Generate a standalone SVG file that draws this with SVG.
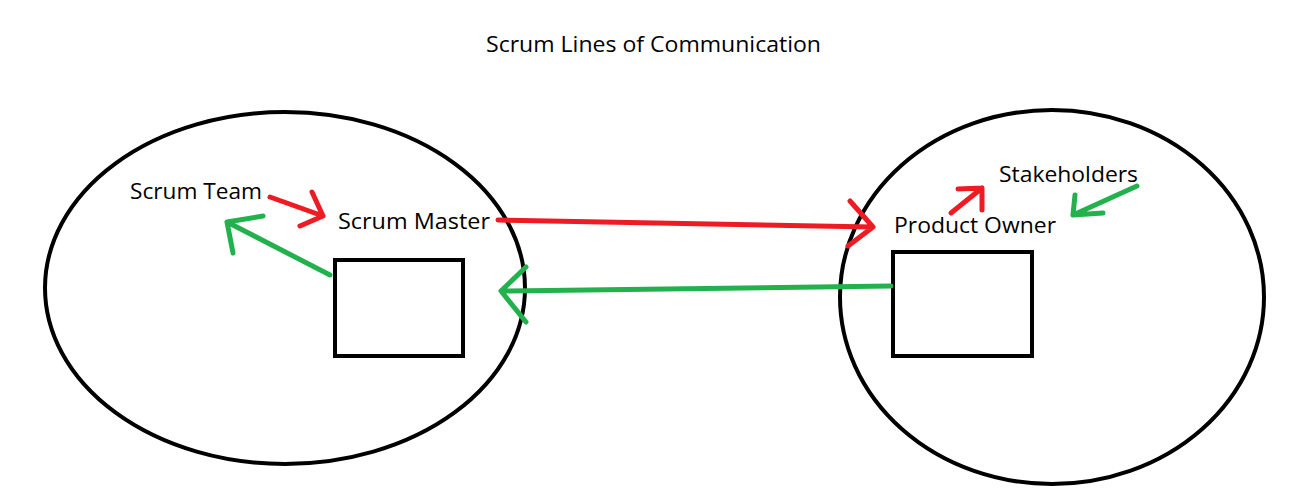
<svg xmlns="http://www.w3.org/2000/svg" width="1298" height="497" viewBox="0 0 1298 497">
<style>
.shape{fill:none;stroke:#000;stroke-width:4}
.red{fill:none;stroke:#ED1C24;stroke-width:5;stroke-linecap:round;stroke-linejoin:round}
.green{fill:none;stroke:#22B14C;stroke-width:5;stroke-linecap:round;stroke-linejoin:round}
text{font-family:"Open Sans","Liberation Sans",Arial,sans-serif;font-size:21px;fill:#000}
</style>
<rect width="1298" height="497" fill="#fff"/>
<text x="486" y="52" textLength="335" lengthAdjust="spacingAndGlyphs">Scrum Lines of Communication</text>
<g id="left-group">
<ellipse class="shape" cx="285" cy="288" rx="240" ry="176"/>
<rect class="shape" x="335" y="260" width="128" height="96"/>
</g>
<g id="right-group">
<ellipse class="shape" cx="1052" cy="297" rx="212" ry="187"/>
<rect class="shape" x="893" y="252" width="139" height="104"/>
</g>
<g id="scrum-team"><text x="130" y="199" textLength="132" lengthAdjust="spacingAndGlyphs">Scrum Team</text></g>
<g id="scrum-master"><text x="338" y="229" textLength="152" lengthAdjust="spacingAndGlyphs">Scrum Master</text></g>
<g id="product-owner"><text x="894" y="233" textLength="162" lengthAdjust="spacingAndGlyphs">Product Owner</text></g>
<g id="stakeholders"><text x="999" y="182" textLength="139" lengthAdjust="spacingAndGlyphs">Stakeholders</text></g>
<g id="connectors">
<path class="red" d="M270,197 L323,216 M312,192 L323,216 L300,226"/>
<path class="green" d="M330,275 L227,222 M263,216 L227,222 L233,253"/>
<path class="red" d="M498,220 L873,227 M850,201 L873,227 L848,246"/>
<path class="green" d="M891,286 L501,291 M526,267 L501,291 L526,322"/>
<path class="red" d="M951,213 L982,188 M958,189 L982,188 L982,210"/>
<path class="green" d="M1137,186 L1073,215 M1075,195 L1073,215 L1103,213"/>
</g>
</svg>
